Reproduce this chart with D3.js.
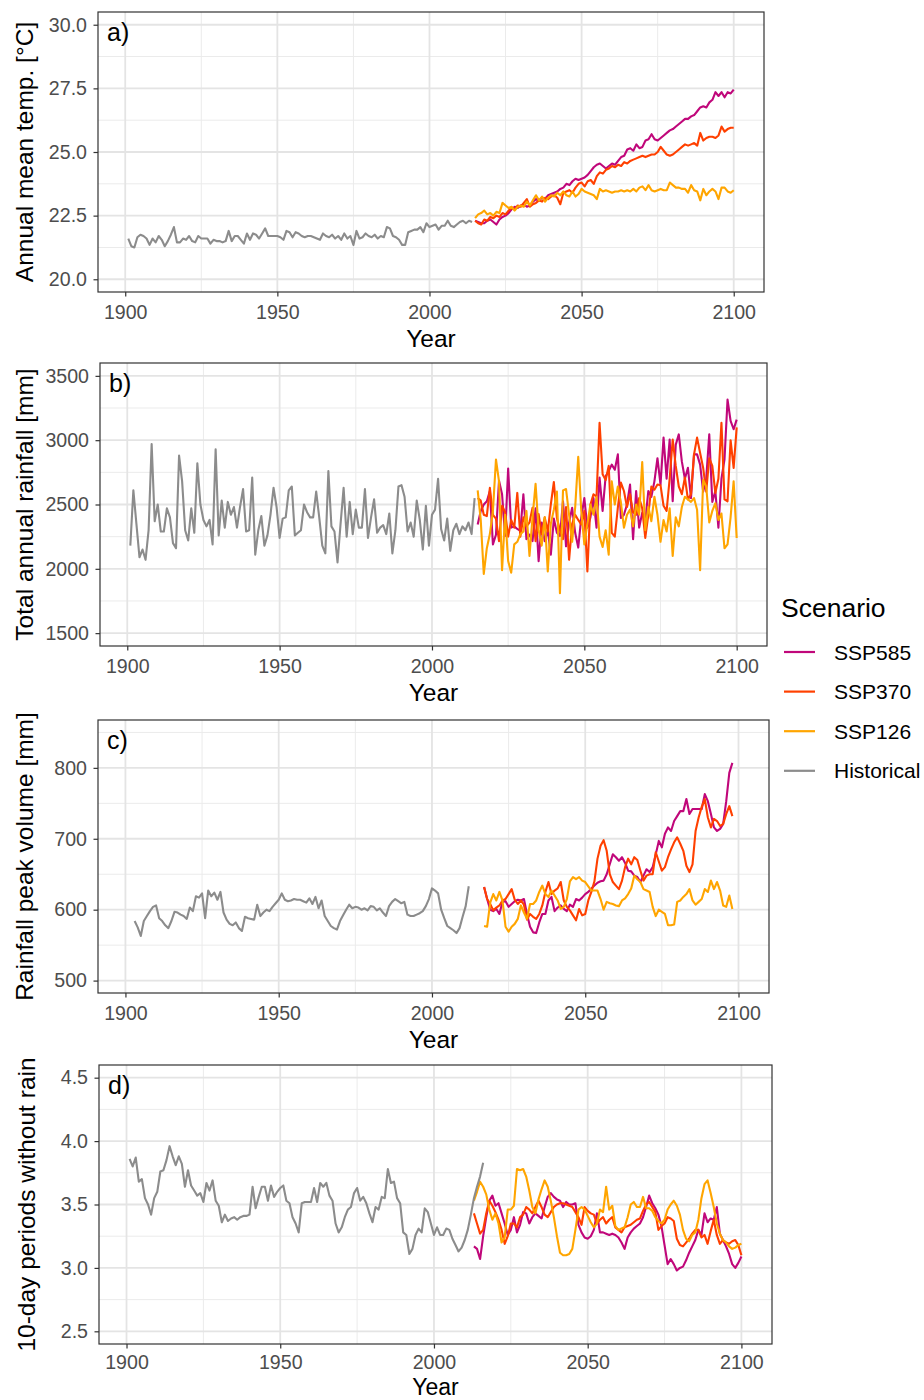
<!DOCTYPE html>
<html>
<head>
<meta charset="utf-8">
<script src="https://cdn.jsdelivr.net/npm/d3@7"></script>
<style>
  html, body { margin: 0; padding: 0; background: #ffffff; }
  svg { display: block; font-family: "Liberation Sans", Arial, sans-serif; }
</style>
</head>
<body>
<script>
// ---------------- DATA ----------------
const scenarioNames = ["SSP585", "SSP370", "SSP126", "Historical"];
const scenarioColors = ["#C0077A", "#FF4000", "#FFA500", "#8C8C8C"];

const xTicks = [1900, 1950, 2000, 2050, 2100];
const xMinorTicks = [1925, 1975, 2025, 2075];

// a) annual mean temperature
const tempHistStart = 1901, tempSspStart = 2015;
const tempHistorical = [
  21.6,21.3,21.25,21.65,21.75,21.7,21.6,21.35,21.6,21.45,
  21.7,21.55,21.3,21.5,21.75,22.05,21.45,21.45,21.6,21.55,
  21.7,21.5,21.45,21.7,21.6,21.6,21.6,21.4,21.55,21.5,
  21.5,21.45,21.5,21.9,21.5,21.7,21.7,21.55,21.4,21.8,
  21.55,21.8,21.75,21.6,21.8,22.0,21.7,21.7,21.7,21.7,
  21.65,21.55,21.9,21.85,21.65,21.85,21.8,21.7,21.65,21.7,
  21.7,21.65,21.6,21.55,21.8,21.7,21.65,21.75,21.6,21.7,
  21.55,21.8,21.6,21.7,21.35,21.9,21.6,21.65,21.8,21.7,
  21.65,21.75,21.6,21.7,21.65,22.05,22.0,21.7,21.65,21.55,
  21.35,21.35,21.85,21.9,21.95,21.95,22.05,21.85,22.2,22.05,
  22.1,22.15,21.95,22.1,22.1,22.3,22.1,22.05,22.15,22.25,
  22.3,22.2,22.3,22.25];
const tempSSP585 = [
  22.3,22.25,22.2,22.2,22.3,22.35,22.25,22.15,22.35,22.45,
  22.5,22.6,22.75,22.85,22.8,22.9,22.95,22.85,22.9,23.05,
  23.15,23.1,23.2,23.15,23.3,23.35,23.4,23.45,23.55,23.6,
  23.75,23.7,23.85,23.95,23.9,23.95,24.0,24.1,24.25,24.4,
  24.5,24.55,24.45,24.35,24.45,24.55,24.5,24.65,24.8,24.85,
  25.1,25.15,25.05,25.3,25.15,25.2,25.45,25.5,25.7,25.5,
  25.45,25.55,25.65,25.75,25.85,25.9,26.0,26.1,26.2,26.3,
  26.3,26.4,26.45,26.6,26.75,26.8,26.75,26.95,27.05,27.35,
  27.2,27.35,27.15,27.35,27.3,27.45];
const tempSSP370 = [
  22.3,22.2,22.15,22.35,22.3,22.45,22.4,22.5,22.45,22.6,
  22.55,22.7,22.8,22.75,22.9,22.85,23.0,23.15,22.85,22.95,
  23.0,23.1,23.05,23.2,23.15,23.25,23.3,23.2,22.95,23.4,
  23.45,23.5,23.4,23.6,23.75,23.8,23.65,23.85,23.9,23.75,
  24.05,24.2,24.15,24.3,24.35,24.45,24.4,24.5,24.45,24.6,
  24.55,24.65,24.7,24.75,24.8,24.85,24.8,24.85,24.9,24.9,
  25.0,25.2,25.05,24.9,24.85,24.9,25.0,25.1,25.2,25.3,
  25.25,25.3,25.35,25.25,25.75,25.45,25.55,25.6,25.6,25.55,
  25.65,26.0,25.8,25.9,25.95,25.95];
const tempSSP126 = [
  22.4,22.55,22.6,22.7,22.55,22.6,22.5,22.65,22.6,23.0,
  22.9,22.8,22.85,22.7,22.85,22.9,22.85,23.05,22.9,23.1,
  23.3,23.1,23.25,23.05,23.2,23.3,23.25,23.4,23.3,23.45,
  23.3,23.25,23.45,23.25,23.35,23.55,23.45,23.4,23.35,23.3,
  23.15,23.55,23.45,23.5,23.45,23.4,23.45,23.45,23.5,23.45,
  23.5,23.45,23.55,23.45,23.6,23.65,23.5,23.7,23.5,23.45,
  23.5,23.55,23.5,23.5,23.8,23.7,23.6,23.6,23.55,23.55,
  23.4,23.7,23.5,23.45,23.1,23.55,23.3,23.45,23.55,23.45,
  23.15,23.6,23.6,23.45,23.4,23.5];
const tempTicks = [20, 22.5, 25, 27.5, 30];
const tempMinorTicks = [21.25, 23.75, 26.25, 28.75];

// b) total annual rainfall
const rainHistStart = 1901, rainSspStart = 2015;
const rainHistorical = [
  2180,2610,2350,2090,2150,2070,2300,2970,2370,2500,
  2290,2290,2470,2400,2200,2160,2880,2680,2300,2220,
  2470,2280,2820,2500,2380,2330,2380,2190,2930,2260,
  2530,2320,2520,2420,2480,2320,2480,2620,2290,2300,
  2710,2110,2300,2410,2180,2260,2420,2630,2480,2240,
  2390,2400,2610,2640,2260,2280,2300,2500,2440,2400,
  2400,2600,2400,2180,2120,2760,2330,2290,2050,2350,
  2630,2250,2520,2270,2460,2320,2320,2620,2240,2400,
  2540,2280,2320,2340,2270,2430,2120,2300,2640,2650,
  2560,2290,2360,2250,2530,2380,2150,2490,2180,2420,
  2460,2700,2310,2220,2390,2140,2300,2350,2270,2330,
  2300,2360,2270,2550];
const rainSSP585 = [
  2345,2450,2500,2525,2605,2190,2265,2685,2580,2255,
  2780,2320,2330,2310,2295,2580,2230,2265,2215,2470,
  2060,2360,2215,2300,2110,2390,2280,2255,2525,2175,
  2360,2475,2280,2165,2400,2550,2320,2400,2550,2320,
  2710,2450,2720,2760,2810,2770,2890,2395,2420,2500,
  2655,2230,2605,2320,2435,2370,2605,2560,2680,2860,
  2655,3020,2700,3005,2525,2965,3045,2835,2700,2785,
  2550,2890,2890,2810,2600,2700,3045,2520,2605,2320,
  2700,2850,3315,3150,3085,3160];
const rainSSP370 = [
  2550,2530,2420,2410,2630,2420,2390,2215,2490,2440,
  2250,2380,2320,2590,2250,2400,2330,2360,2475,2215,
  2425,2270,2400,2290,2500,2675,2395,2300,2230,2480,
  2070,2350,2420,2380,2345,2450,1980,2500,2580,2560,
  3135,2735,2690,2800,2280,2250,2475,2670,2605,2480,
  2580,2440,2420,2550,2470,2240,2420,2640,2615,2655,
  2650,2490,2450,2700,3005,2800,2640,2580,2710,2540,
  2580,2890,3020,2900,2785,2600,2860,2800,2590,2700,
  3135,2540,2525,3000,2785,3100];
const rainSSP126 = [
  2610,2380,1960,2160,2270,2450,2850,2680,1990,2420,
  2060,1970,2190,2210,2270,2290,2450,2100,2400,2660,
  2300,2180,2400,1980,2350,2460,2600,1810,2610,2620,
  2420,2210,2480,2870,2450,2190,2350,2500,2420,2560,
  2250,2170,2300,2110,2680,2500,2640,2515,2320,2420,
  2460,2330,2500,2420,2830,2300,2480,2370,2560,2420,
  2210,2380,2290,2470,2100,2400,2330,2480,2560,2540,
  2520,2550,2460,1990,2690,2640,2360,2450,2510,2380,
  2430,2160,2190,2400,2680,2240];
const rainTicks = [1500, 2000, 2500, 3000, 3500];
const rainMinorTicks = [1750, 2250, 2750, 3250];

// c) rainfall peak volume
const peakHistStart = 1903, peakSspStart = 2017;
const peakHistorical = [
  584,575,563,584,591,598,604,606,588,584,
  578,574,584,597,596,593,591,587,603,598,
  619,617,623,588,627,619,624,614,625,596,
  586,580,578,582,574,570,590,588,587,586,
  607,591,596,600,598,604,609,614,623,614,
  612,613,615,614,614,612,610,616,608,618,
  602,613,591,584,577,574,572,584,592,600,
  607,602,604,603,600,602,599,605,604,599,
  602,596,591,605,611,615,612,609,611,593,
  591,591,593,595,598,605,615,630,627,623,
  600,588,577,574,571,567,574,590,605,633];
const peakSSP585 = [
  632,615,600,598,601,594,611,612,604,608,
  612,614,613,615,594,576,568,567,582,594,
  594,613,618,598,603,606,601,598,607,604,
  615,613,617,622,625,630,634,638,640,641,
  650,664,678,674,669,674,666,655,654,648,
  646,639,648,657,653,660,678,697,688,707,
  716,711,725,732,739,739,756,735,742,742,
  742,742,763,753,735,716,711,714,721,753,
  793,807];
const peakSSP370 = [
  632,615,608,599,603,606,613,615,622,629,
  614,608,613,607,586,594,590,587,594,606,
  625,639,622,627,630,639,613,604,599,592,
  585,601,592,594,613,625,640,672,690,698,
  683,650,639,634,629,641,660,672,664,674,
  670,655,641,648,650,650,681,668,655,660,
  674,685,695,702,693,683,662,653,664,711,
  730,745,756,730,716,728,725,718,721,735,
  746,732];
const peakSSP126 = [
  577,576,610,622,613,625,613,576,569,576,
  580,587,606,596,587,608,608,613,625,634,
  622,618,627,620,613,601,604,615,640,646,
  643,646,641,639,633,627,627,627,615,600,
  611,609,608,606,605,613,616,622,630,648,
  643,639,629,627,625,604,591,600,597,594,
  578,578,579,611,613,618,622,629,613,607,
  611,615,629,625,641,629,639,627,606,604,
  620,601];
const peakTicks = [500, 600, 700, 800];
const peakMinorTicks = [550, 650, 750, 850];

// d) 10-day periods without rain
const dryHistStart = 1901, drySspStart = 2013;
const dryHistorical = [
  3.86,3.80,3.87,3.68,3.70,3.55,3.50,3.42,3.55,3.60,
  3.76,3.77,3.85,3.96,3.88,3.81,3.88,3.82,3.64,3.77,
  3.65,3.61,3.57,3.59,3.52,3.67,3.61,3.69,3.53,3.49,
  3.36,3.42,3.37,3.39,3.40,3.38,3.40,3.41,3.41,3.42,
  3.64,3.47,3.56,3.64,3.64,3.53,3.65,3.56,3.60,3.63,
  3.65,3.53,3.51,3.40,3.35,3.28,3.51,3.52,3.52,3.52,
  3.63,3.52,3.67,3.64,3.67,3.57,3.53,3.35,3.28,3.32,
  3.40,3.46,3.48,3.59,3.63,3.53,3.56,3.51,3.43,3.36,
  3.48,3.46,3.56,3.55,3.78,3.67,3.68,3.55,3.51,3.28,
  3.26,3.11,3.15,3.26,3.31,3.28,3.47,3.44,3.35,3.26,
  3.32,3.26,3.26,3.31,3.30,3.23,3.18,3.13,3.16,3.22,
  3.30,3.42,3.55,3.64,3.72,3.83];
const drySSP585 = [
  3.17,3.15,3.07,3.25,3.40,3.53,3.57,3.49,3.51,3.43,
  3.35,3.26,3.30,3.40,3.28,3.34,3.44,3.43,3.35,3.40,
  3.43,3.41,3.39,3.48,3.56,3.59,3.56,3.54,3.53,3.48,
  3.52,3.50,3.50,3.51,3.34,3.28,3.24,3.23,3.25,3.30,
  3.43,3.28,3.28,3.27,3.26,3.27,3.26,3.24,3.20,3.15,
  3.24,3.28,3.31,3.33,3.35,3.40,3.48,3.57,3.51,3.47,
  3.42,3.33,3.18,3.03,3.07,3.03,2.98,3.00,3.01,3.06,
  3.12,3.17,3.22,3.30,3.26,3.43,3.36,3.39,3.38,3.48,
  3.27,3.22,3.17,3.11,3.03,3.00,3.04,3.09];
const drySSP370 = [
  3.43,3.35,3.27,3.30,3.43,3.53,3.49,3.44,3.38,3.30,
  3.19,3.25,3.35,3.35,3.32,3.40,3.42,3.48,3.46,3.43,
  3.48,3.53,3.48,3.42,3.40,3.44,3.48,3.50,3.51,3.51,
  3.50,3.49,3.48,3.44,3.40,3.34,3.48,3.45,3.43,3.42,
  3.35,3.38,3.40,3.35,3.38,3.40,3.32,3.30,3.28,3.32,
  3.33,3.34,3.36,3.38,3.39,3.45,3.50,3.52,3.48,3.44,
  3.30,3.33,3.35,3.40,3.39,3.37,3.23,3.18,3.17,3.20,
  3.23,3.27,3.30,3.30,3.24,3.26,3.19,3.29,3.38,3.26,
  3.19,3.22,3.20,3.19,3.21,3.22,3.18,3.10];
const drySSP126 = [
  3.53,3.60,3.68,3.64,3.58,3.46,3.38,3.43,3.35,3.20,
  3.24,3.46,3.46,3.49,3.78,3.77,3.78,3.72,3.61,3.48,
  3.43,3.54,3.62,3.69,3.64,3.53,3.40,3.25,3.12,3.10,
  3.10,3.11,3.15,3.30,3.46,3.48,3.46,3.41,3.36,3.32,
  3.35,3.46,3.44,3.64,3.46,3.49,3.33,3.30,3.31,3.32,
  3.40,3.50,3.52,3.48,3.48,3.56,3.47,3.47,3.45,3.40,
  3.37,3.35,3.38,3.46,3.50,3.53,3.49,3.42,3.30,3.23,
  3.21,3.26,3.28,3.38,3.55,3.66,3.69,3.59,3.48,3.35,
  3.27,3.22,3.20,3.17,3.15,3.16,3.18,3.19];
const dryTicks = [2.5, 3.0, 3.5, 4.0, 4.5];
const dryMinorTicks = [2.75, 3.25, 3.75, 4.25];

// ---------------- CHART ----------------
const W = 924, H = 1400;
const FONT = '"Liberation Sans", Arial, sans-serif';
const color = d3.scaleOrdinal().domain(scenarioNames).range(scenarioColors);
const xDomain = [1891.05, 2109.95];

const svg = d3.select("body").append("svg")
  .attr("width", W).attr("height", H)
  .attr("viewBox", `0 0 ${W} ${H}`);
svg.append("rect").attr("width", W).attr("height", H).attr("fill", "#ffffff");

function series(name, start, values) {
  return { name, points: values.map((v, i) => ({ year: start + i, value: v })) };
}

const panels = [
  { label: "a)", title: "Annual mean temp. [°C]", l: 98, r: 764, t: 12, b: 292,
    yDomain: [19.5, 30.5], ticks: tempTicks, minor: tempMinorTicks, fmt: d3.format(".1f"), titleX: 33,
    yearOff: 55, yearSize: 24.5, xPad: 8.5,
    series: [series("SSP585", tempSspStart, tempSSP585), series("SSP370", tempSspStart, tempSSP370),
             series("SSP126", tempSspStart, tempSSP126), series("Historical", tempHistStart, tempHistorical)] },
  { label: "b)", title: "Total annual rainfall [mm]", l: 100, r: 767, t: 363, b: 646,
    yDomain: [1400, 3600], ticks: rainTicks, minor: rainMinorTicks, fmt: d3.format("d"), titleX: 33,
    yearOff: 55, yearSize: 24.5, xPad: 8.5,
    series: [series("SSP585", rainSspStart, rainSSP585), series("SSP370", rainSspStart, rainSSP370),
             series("SSP126", rainSspStart, rainSSP126), series("Historical", rainHistStart, rainHistorical)] },
  { label: "c)", title: "Rainfall peak volume [mm]", l: 98, r: 769, t: 720, b: 993,
    yDomain: [482.5, 867.5], ticks: peakTicks, minor: peakMinorTicks, fmt: d3.format("d"), titleX: 33,
    yearOff: 55, yearSize: 24.5, xPad: 8.5,
    series: [series("SSP585", peakSspStart, peakSSP585), series("SSP370", peakSspStart, peakSSP370),
             series("SSP126", peakSspStart, peakSSP126), series("Historical", peakHistStart, peakHistorical)] },
  { label: "d)", title: "10-day periods without rain", l: 99, r: 772, t: 1065, b: 1344,
    yDomain: [2.4, 4.6], ticks: dryTicks, minor: dryMinorTicks, fmt: d3.format(".1f"), titleX: 35,
    yearOff: 50.5, yearSize: 23, xPad: 6.5,
    series: [series("SSP585", drySspStart, drySSP585), series("SSP370", drySspStart, drySSP370),
             series("SSP126", drySspStart, drySSP126), series("Historical", dryHistStart, dryHistorical)] }
];

panels.forEach(p => {
  const x = d3.scaleLinear().domain(xDomain).range([p.l, p.r]);
  const y = d3.scaleLinear().domain(p.yDomain).range([p.b, p.t]);
  const g = svg.append("g");

  g.append("rect").attr("x", p.l).attr("y", p.t).attr("width", p.r - p.l).attr("height", p.b - p.t)
    .attr("fill", "#ffffff");

  // minor grid
  g.selectAll(".vminor").data(xMinorTicks).join("line")
    .attr("x1", d => x(d)).attr("x2", d => x(d)).attr("y1", p.t).attr("y2", p.b)
    .attr("stroke", "#ebebeb").attr("stroke-width", 1);
  g.selectAll(".hminor").data(p.minor).join("line")
    .attr("x1", p.l).attr("x2", p.r).attr("y1", d => y(d)).attr("y2", d => y(d))
    .attr("stroke", "#ebebeb").attr("stroke-width", 1);
  // major grid
  g.selectAll(".vmajor").data(xTicks).join("line")
    .attr("x1", d => x(d)).attr("x2", d => x(d)).attr("y1", p.t).attr("y2", p.b)
    .attr("stroke", "#e4e4e4").attr("stroke-width", 1.8);
  g.selectAll(".hmajor").data(p.ticks).join("line")
    .attr("x1", p.l).attr("x2", p.r).attr("y1", d => y(d)).attr("y2", d => y(d))
    .attr("stroke", "#e4e4e4").attr("stroke-width", 1.8);

  // lines
  const line = d3.line().x(d => x(d.year)).y(d => y(d.value));
  p.series.forEach(s => {
    g.append("path").datum(s.points)
      .attr("d", line).attr("fill", "none")
      .attr("stroke", color(s.name)).attr("stroke-width", 2.1)
      .attr("stroke-linejoin", "round").attr("stroke-linecap", "butt");
  });

  // border
  g.append("rect").attr("x", p.l).attr("y", p.t).attr("width", p.r - p.l).attr("height", p.b - p.t)
    .attr("fill", "none").attr("stroke", "#333333").attr("stroke-width", 1.2);

  // axes
  const xAxis = g.append("g").attr("transform", `translate(0,${p.b})`)
    .call(d3.axisBottom(x).tickValues(xTicks).tickFormat(d3.format("d")).tickSize(4.5).tickPadding(p.xPad));
  const yAxis = g.append("g").attr("transform", `translate(${p.l},0)`)
    .call(d3.axisLeft(y).tickValues(p.ticks).tickFormat(p.fmt).tickSize(4.5).tickPadding(6.5));
  [xAxis, yAxis].forEach(a => {
    a.select(".domain").remove();
    a.selectAll(".tick line").attr("stroke", "#333333").attr("stroke-width", 1.2);
    a.selectAll(".tick text").attr("fill", "#4d4d4d").style("font-size", "19.6px").style("font-family", FONT);
  });

  // axis titles
  g.append("text").attr("x", (p.l + p.r) / 2).attr("y", p.b + p.yearOff)
    .attr("text-anchor", "middle").attr("fill", "#000").style("font-size", p.yearSize + "px").style("font-family", FONT)
    .text("Year");
  g.append("text").attr("transform", `translate(${p.titleX},${(p.t + p.b) / 2}) rotate(-90)`)
    .attr("text-anchor", "middle").attr("fill", "#000").style("font-size", "24.5px").style("font-family", FONT)
    .text(p.title);

  // panel label
  g.append("text").attr("x", p.l + 9).attr("y", p.t + 29)
    .attr("fill", "#000").style("font-size", "25px").style("font-family", FONT)
    .text(p.label);
});

// legend
const leg = svg.append("g");
leg.append("text").attr("x", 781).attr("y", 617)
  .attr("fill", "#000").style("font-size", "26.5px").style("font-family", FONT).text("Scenario");
scenarioNames.forEach((name, i) => {
  const yy = 652 + i * 39.6;
  leg.append("line").attr("x1", 784).attr("x2", 815).attr("y1", yy).attr("y2", yy)
    .attr("stroke", color(name)).attr("stroke-width", 2.2);
  leg.append("text").attr("x", 834).attr("y", yy).attr("dy", "0.36em")
    .attr("fill", "#000").style("font-size", "21px").style("font-family", FONT).text(name);
});
</script>
</body>
</html>
